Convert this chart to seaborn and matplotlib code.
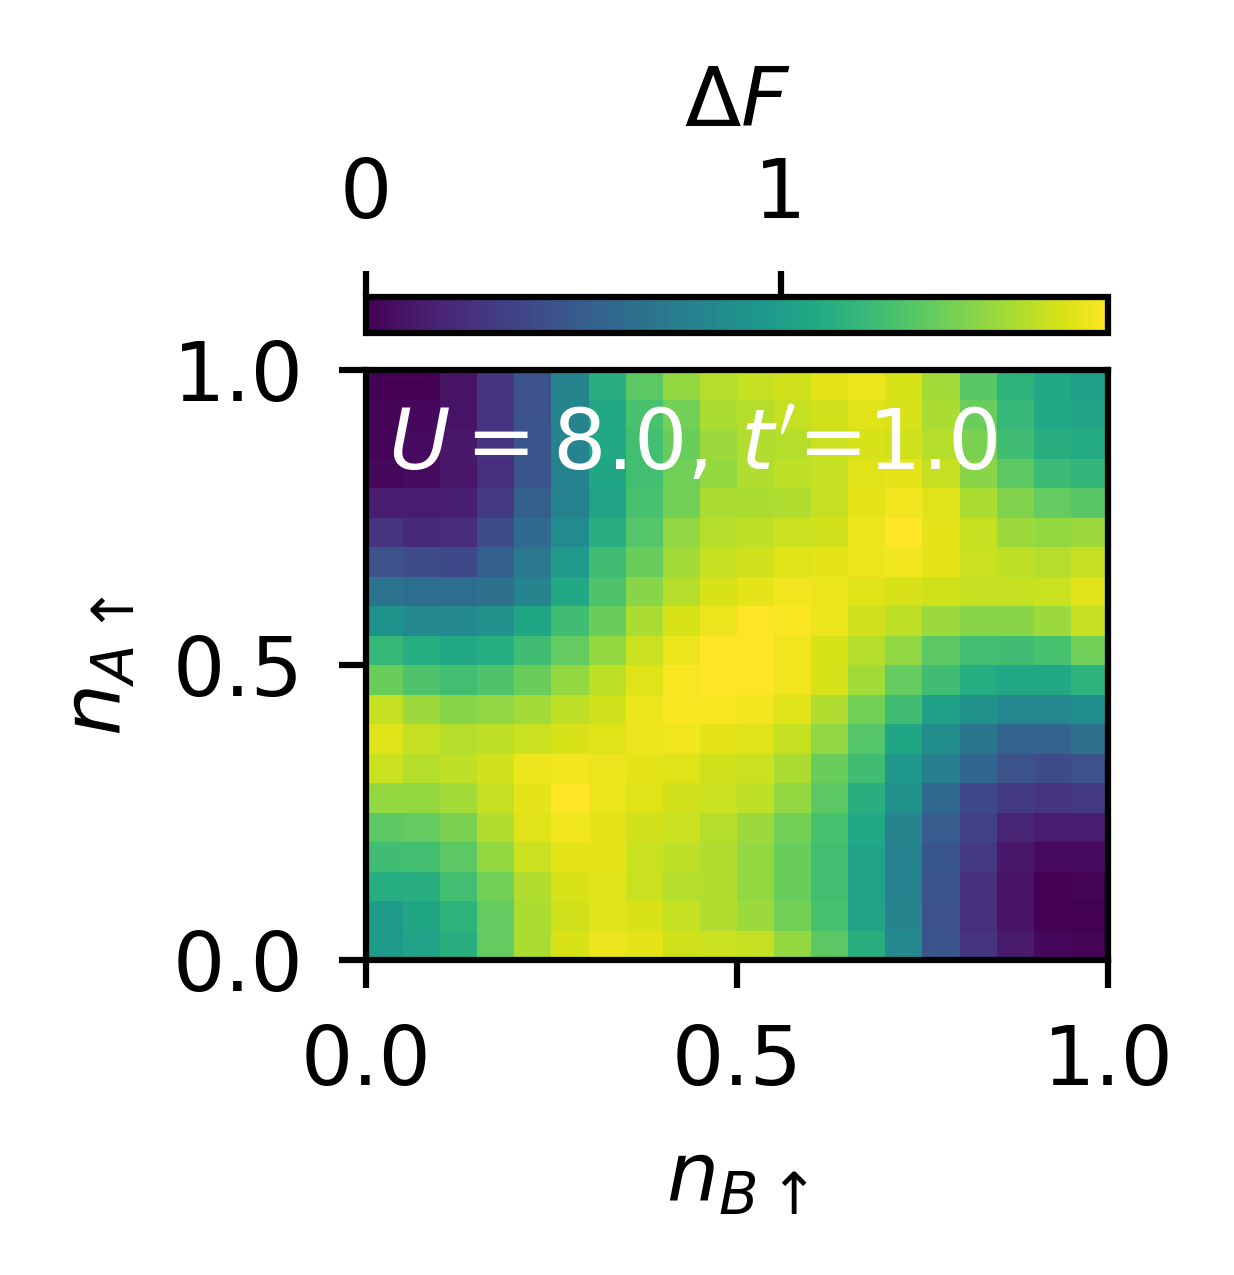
import numpy as np
import pandas as pd
import matplotlib
matplotlib.use("Agg")
import matplotlib.pyplot as plt
import seaborn as sns

# Delta F values, rows from n_A = 1 (top) to n_A = 0 (bottom), columns n_B = 0 -> 1
row00 = [0.00, 0.00, 0.09, 0.27, 0.45, 0.81, 1.13, 1.34, 1.50, 1.59, 1.63, 1.66, 1.72, 1.74, 1.68, 1.54, 1.32, 1.16, 1.07, 1.00]
row01 = [0.02, 0.04, 0.09, 0.27, 0.45, 0.81, 1.07, 1.27, 1.41, 1.56, 1.59, 1.63, 1.66, 1.70, 1.68, 1.56, 1.38, 1.20, 1.07, 1.04]
row02 = [0.02, 0.05, 0.11, 0.27, 0.47, 0.81, 1.07, 1.25, 1.38, 1.52, 1.58, 1.59, 1.65, 1.68, 1.66, 1.59, 1.43, 1.24, 1.13, 1.09]
row03 = [0.04, 0.05, 0.11, 0.25, 0.47, 0.79, 1.06, 1.25, 1.40, 1.50, 1.58, 1.61, 1.63, 1.70, 1.72, 1.63, 1.47, 1.34, 1.22, 1.18]
row04 = [0.14, 0.14, 0.16, 0.30, 0.54, 0.79, 1.04, 1.27, 1.41, 1.56, 1.56, 1.58, 1.63, 1.72, 1.75, 1.70, 1.56, 1.45, 1.36, 1.32]
row05 = [0.27, 0.21, 0.23, 0.41, 0.61, 0.86, 1.13, 1.31, 1.49, 1.59, 1.61, 1.65, 1.66, 1.74, 1.79, 1.72, 1.63, 1.52, 1.50, 1.52]
row06 = [0.45, 0.41, 0.39, 0.54, 0.72, 0.97, 1.24, 1.38, 1.54, 1.63, 1.66, 1.70, 1.72, 1.74, 1.75, 1.72, 1.65, 1.61, 1.59, 1.63]
row07 = [0.68, 0.64, 0.63, 0.66, 0.81, 1.07, 1.29, 1.47, 1.59, 1.68, 1.72, 1.75, 1.74, 1.70, 1.68, 1.66, 1.63, 1.63, 1.65, 1.70]
row08 = [0.91, 0.84, 0.84, 0.90, 1.06, 1.24, 1.38, 1.56, 1.68, 1.74, 1.79, 1.77, 1.74, 1.66, 1.61, 1.52, 1.47, 1.47, 1.52, 1.63]
row09 = [1.20, 1.11, 1.07, 1.11, 1.24, 1.36, 1.50, 1.65, 1.74, 1.79, 1.79, 1.75, 1.68, 1.59, 1.49, 1.34, 1.25, 1.24, 1.27, 1.40]
row10 = [1.38, 1.29, 1.25, 1.29, 1.38, 1.50, 1.61, 1.70, 1.77, 1.79, 1.79, 1.75, 1.68, 1.54, 1.36, 1.24, 1.11, 1.07, 1.07, 1.15]
row11 = [1.63, 1.52, 1.47, 1.49, 1.54, 1.61, 1.66, 1.74, 1.77, 1.77, 1.75, 1.70, 1.58, 1.41, 1.24, 1.02, 0.90, 0.82, 0.82, 0.88]
row12 = [1.70, 1.63, 1.59, 1.61, 1.65, 1.68, 1.70, 1.74, 1.75, 1.72, 1.70, 1.63, 1.49, 1.31, 1.06, 0.88, 0.70, 0.57, 0.57, 0.66]
row13 = [1.65, 1.59, 1.61, 1.66, 1.74, 1.75, 1.74, 1.72, 1.70, 1.66, 1.65, 1.56, 1.38, 1.24, 0.95, 0.77, 0.59, 0.45, 0.41, 0.45]
row14 = [1.50, 1.50, 1.54, 1.63, 1.72, 1.79, 1.74, 1.70, 1.66, 1.65, 1.61, 1.50, 1.34, 1.13, 0.90, 0.61, 0.39, 0.30, 0.27, 0.30]
row15 = [1.34, 1.36, 1.43, 1.58, 1.70, 1.75, 1.72, 1.66, 1.65, 1.59, 1.52, 1.41, 1.27, 1.07, 0.81, 0.52, 0.34, 0.18, 0.14, 0.14]
row16 = [1.24, 1.25, 1.34, 1.50, 1.65, 1.72, 1.72, 1.65, 1.61, 1.58, 1.50, 1.38, 1.25, 1.04, 0.79, 0.48, 0.30, 0.11, 0.05, 0.05]
row17 = [1.11, 1.13, 1.25, 1.41, 1.58, 1.68, 1.70, 1.65, 1.59, 1.58, 1.50, 1.38, 1.25, 1.04, 0.79, 0.47, 0.25, 0.09, 0.00, 0.02]
row18 = [0.98, 1.06, 1.16, 1.36, 1.56, 1.66, 1.70, 1.68, 1.63, 1.58, 1.52, 1.41, 1.27, 1.04, 0.81, 0.45, 0.25, 0.09, 0.00, 0.00]
row19 = [0.98, 1.04, 1.13, 1.36, 1.56, 1.68, 1.74, 1.72, 1.66, 1.65, 1.63, 1.50, 1.34, 1.13, 0.84, 0.47, 0.27, 0.13, 0.04, 0.02]

x_ticks = [0.0, 0.5, 1.0]
y_ticks = [0.0, 0.5, 1.0]
cbar_ticks = [0, 1]
vmin, vmax = 0.0, 1.79
annotation = r"$U=8.0$, $t'$=1.0"

rows = [row00, row01, row02, row03, row04, row05, row06, row07, row08, row09,
        row10, row11, row12, row13, row14, row15, row16, row17, row18, row19]
data = pd.DataFrame(np.array(rows))
n_rows, n_cols = data.shape

plt.rcParams["font.family"] = ["DejaVu Sans"]
plt.rcParams["mathtext.fontset"] = "dejavusans"
FS = 9.9

W, H = 1235, 1275
fig = plt.figure(figsize=(W / 600, H / 600), dpi=600)

def frac(x0, y0, x1, y1):
    return [x0 / W, 1 - y1 / H, (x1 - x0) / W, (y1 - y0) / H]

ax = fig.add_axes(frac(366, 370, 1108, 960))
cax = fig.add_axes(frac(366, 297, 1108, 333))

sns.heatmap(data, ax=ax, cmap="viridis", vmin=vmin, vmax=vmax,
            cbar_ax=cax, cbar_kws={"orientation": "horizontal"},
            xticklabels=False, yticklabels=False)

lw = 0.75
for s in ax.spines.values():
    s.set_visible(True)
    s.set_linewidth(lw)
    s.set_color("black")

ax.set_xticks([v * n_cols for v in x_ticks])
ax.set_xticklabels([f"{v:.1f}" for v in x_ticks], rotation=0)
ax.set_yticks([(1 - v) * n_rows for v in y_ticks])
ax.set_yticklabels([f"{v:.1f}" for v in y_ticks], rotation=0)
ax.tick_params(axis="both", which="major", length=3.3, width=lw,
               labelsize=FS, pad=4.2, direction="out")
ax.set_xlabel(r"$n_{B\uparrow}$", fontsize=FS, labelpad=4.6)
ax.set_ylabel(r"$n_{A\uparrow}$", fontsize=FS, labelpad=4.2)

ax.text(0.030, 0.83, annotation, transform=ax.transAxes, color="white",
        fontsize=10.1, ha="left", va="baseline")

cbar = ax.collections[0].colorbar
cbar.set_ticks(cbar_ticks)
cbar.set_ticklabels([str(t) for t in cbar_ticks])
cax.xaxis.set_ticks_position("top")
cax.xaxis.set_label_position("top")
cax.tick_params(axis="x", length=3.1, width=lw, labelsize=FS, pad=4.3)
cbar.outline.set_linewidth(lw)
cbar.outline.set_edgecolor("black")
cbar.set_label(r"$\Delta F$", fontsize=FS, labelpad=3.6)

fig.savefig("out.png", dpi=600)
